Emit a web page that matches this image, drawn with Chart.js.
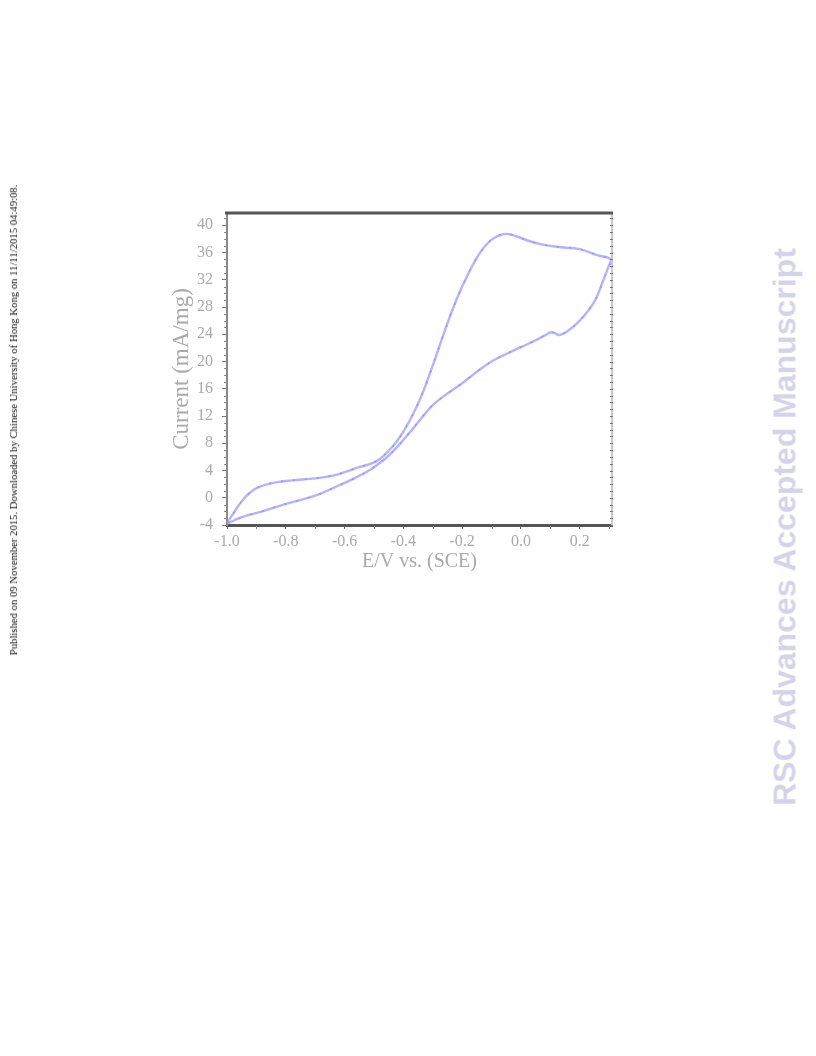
<!DOCTYPE html>
<html>
<head>
<meta charset="utf-8">
<script src="https://cdn.jsdelivr.net/npm/chart.js"></script>
<style>
  html, body { margin: 0; padding: 0; background: #fff; }
  #page { position: relative; width: 816px; height: 1056px; overflow: hidden; }
  #cv { position: absolute; left: 0; top: 0; }
  .side-left {
    position: absolute; left: 13px; top: 420px;
    transform: translate(-50%, -50%) rotate(-90deg);
    white-space: nowrap; font: 10.7px "Liberation Serif", serif; color: #111;
  }
  .side-right {
    position: absolute; left: 785px; top: 527px;
    transform: translate(-50%, -50%) rotate(-90deg);
    white-space: nowrap; font: bold 32px "Liberation Sans", Arial, sans-serif; color: #d4d4e8;
  }
</style>
</head>
<body>
<div id="page">
  <canvas id="cv" width="816" height="1056"></canvas>
  <div class="side-left">Published on 09 November 2015. Downloaded by Chinese University of Hong Kong on 11/11/2015 04:49:08.</div>
  <div class="side-right">RSC Advances Accepted Manuscript</div>
</div>
<script>
// ---- data (forward scan, then reverse) ----
const potential = [
  -1.0, -0.98, -0.96, -0.94, -0.92, -0.90, -0.87, -0.83, -0.78, -0.70,
  -0.64, -0.60, -0.55, -0.51, -0.48, -0.45, -0.42, -0.38, -0.34, -0.30,
  -0.26, -0.22, -0.18, -0.14, -0.10, -0.06, -0.03, 0.02, 0.07, 0.13,
  0.20, 0.26, 0.305,
  0.295, 0.28, 0.25, 0.20, 0.16, 0.13, 0.105, 0.08, 0.04, 0.0,
  -0.05, -0.10, -0.15, -0.20, -0.25, -0.30, -0.34, -0.38, -0.42, -0.46,
  -0.51, -0.56, -0.62, -0.70, -0.80, -0.88, -0.94, -0.975, -1.0
];
const current = [
  -3.8, -2.4, -1.1, 0.0, 0.8, 1.4, 1.9, 2.3, 2.55, 2.85,
  3.25, 3.75, 4.5, 5.0, 5.7, 6.9, 8.4, 11.2, 14.8, 19.4,
  24.4, 29.0, 32.8, 35.9, 37.9, 38.7, 38.6, 37.8, 37.2, 36.8,
  36.5, 35.6, 35.0,
  33.6, 31.9, 28.8, 26.0, 24.5, 23.9, 24.3, 23.8, 22.9, 22.1,
  21.1, 20.0, 18.5, 16.8, 15.3, 13.6, 11.6, 9.5, 7.5, 5.8,
  4.2, 3.0, 1.8, 0.3, -0.9, -2.0, -2.7, -3.3, -3.8
];

const xTicks = [-1.0, -0.8, -0.6, -0.4, -0.2, 0.0, 0.2];
const yTicks = [-4, 0, 4, 8, 12, 16, 20, 24, 28, 32, 36, 40];
const xMinorTicks = [-0.9, -0.7, -0.5, -0.3, -0.1, 0.1, 0.3];

const points = potential.map((v, i) => ({ x: v, y: current[i] }));

// frame: thick top line, dotted right side, minor ticks
const framePlugin = {
  id: 'frame',
  afterDraw(chart) {
    const { ctx, chartArea: a, scales } = chart;
    const xs = scales.x, ys = scales.y;
    ctx.save();
    // right side
    ctx.strokeStyle = '#c8c8c8';
    ctx.lineWidth = 2;
    ctx.beginPath(); ctx.moveTo(a.right, a.top); ctx.lineTo(a.right, a.bottom); ctx.stroke();
    ctx.strokeStyle = '#777';
    ctx.lineWidth = 1;
    for (let v = -4; v <= 41; v++) {
      const py = Math.round(ys.getPixelForValue(v)) + 0.5;
      ctx.beginPath(); ctx.moveTo(a.right - 2, py); ctx.lineTo(a.right + 1, py); ctx.stroke();
    }
    // left minor ticks
    ctx.strokeStyle = '#888';
    for (let v = -4; v <= 41; v++) {
      if (v % 4 === 0) continue;
      const py = Math.round(ys.getPixelForValue(v)) + 0.5;
      ctx.beginPath(); ctx.moveTo(a.left - 3, py); ctx.lineTo(a.left, py); ctx.stroke();
    }
    // bottom minor ticks
    xMinorTicks.forEach(v => {
      const px = Math.round(xs.getPixelForValue(v)) + 0.5;
      ctx.beginPath(); ctx.moveTo(px, a.bottom + 1); ctx.lineTo(px, a.bottom + 4); ctx.stroke();
    });
    // top
    ctx.strokeStyle = '#555';
    ctx.lineWidth = 3;
    ctx.beginPath(); ctx.moveTo(a.left - 2, a.top); ctx.lineTo(a.right + 1, a.top); ctx.stroke();
    ctx.restore();
  }
};

const serif = '"Liberation Serif", "Times New Roman", serif';

new Chart(document.getElementById('cv'), {
  type: 'scatter',
  data: {
    datasets: [
      {
        data: points,
        showLine: true,
        borderColor: 'rgba(160,160,255,0.8)',
        borderWidth: 2.4,
        pointRadius: 0,
        tension: 0.4
      },
      {
        data: points,
        showLine: true,
        borderColor: 'rgba(80,80,235,0.85)',
        borderWidth: 1.5,
        borderDash: [2, 10],
        pointRadius: 0,
        tension: 0.4
      }
    ]
  },
  options: {
    responsive: false,
    animation: false,
    devicePixelRatio: 1,
    layout: { padding: { left: 164, top: 213, right: 204, bottom: 478 } },
    plugins: { legend: { display: false }, tooltip: { enabled: false } },
    scales: {
      x: {
        type: 'linear',
        min: -1.0,
        max: 0.31,
        afterBuildTicks: s => { s.ticks = xTicks.map(v => ({ value: v })); },
        afterFit: s => { s.height = 53; },
        grid: { drawOnChartArea: false, color: '#666', tickLength: 4, lineWidth: 1 },
        border: { color: '#555', width: 3 },
        ticks: {
          color: '#aaa',
          font: { family: serif, size: 16 },
          padding: 3,
          maxRotation: 0,
          callback: v => v.toFixed(1)
        },
        title: {
          display: true,
          text: 'E/V vs. (SCE)',
          color: '#aaa',
          font: { family: serif, size: 20 },
          padding: { top: 0, bottom: 4 }
        }
      },
      y: {
        type: 'linear',
        min: -4,
        max: 41.8,
        afterBuildTicks: s => { s.ticks = yTicks.map(v => ({ value: v })); },
        afterFit: s => { s.width = 63; },
        grid: { drawOnChartArea: false, color: '#777', tickLength: 5, lineWidth: 1 },
        border: { color: '#888', width: 2 },
        ticks: {
          color: '#aaa',
          font: { family: serif, size: 16 },
          padding: 9
        },
        title: {
          display: true,
          text: 'Current (mA/mg)',
          color: '#aaa',
          font: { family: serif, size: 23 },
          padding: { top: 4, bottom: 4 }
        }
      }
    }
  },
  plugins: [framePlugin]
});
</script>
</body>
</html>
